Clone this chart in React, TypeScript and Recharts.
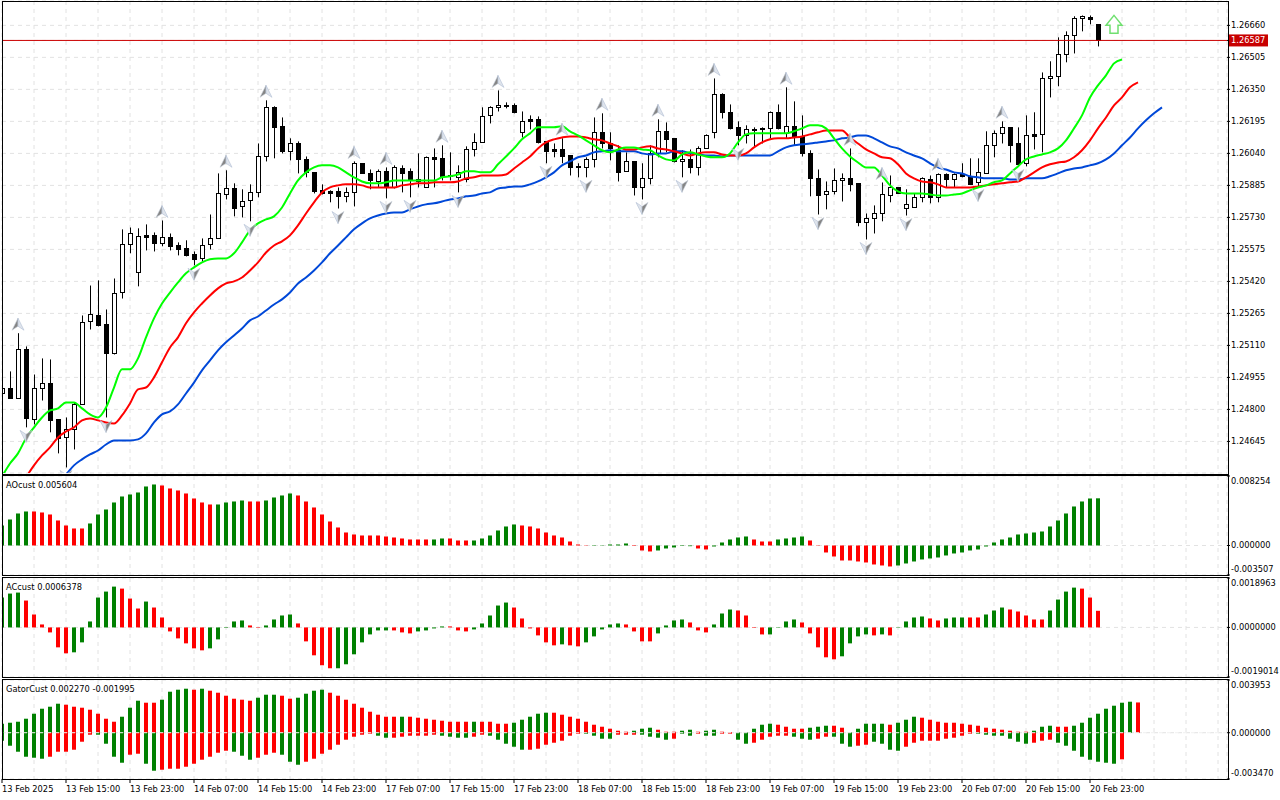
import React from 'react'
import { ComposedChart, Bar, Line, Cell, XAxis, YAxis, CartesianGrid, ReferenceLine } from 'recharts'

// prices are in points (1e-5), AO and Gator in 1e-6, AC in 1e-7
const opens = [
  124877,124902,124853,125091,124756,124906,124930,124752,124664,124703,
  124824,125226,125255,125212,125076,125366,125599,125464,125643,125643,
  125604,125633,125594,125580,125551,125531,125599,125628,125841,125870,
  125783,125812,125851,126025,126263,126171,126050,126088,126011,125948,
  125861,125856,125856,125832,125851,125992,125943,125904,125953,125875,
  125967,125953,125904,125875,126021,126016,125929,125924,125914,126059,
  126093,126224,126263,126270,126272,126142,126205,126205,126098,126059,
  126059,126030,125977,125972,126011,126142,126088,126055,125953,126001,
  125875,125919,126040,126147,126113,126001,126011,125972,126064,126142,
  126326,126238,126166,126127,126151,126161,126161,126238,126137,126171,
  126122,126040,125919,125841,125856,125909,125919,125895,125706,125725,
  125749,125836,125875,125773,125778,125827,125914,125827,125938,125914,
  125938,125929,125900,125943,126079,126137,126166,126088,125992,126132,
  126132,126403,126413,126520,126612,126694,126699,126665,
]
const highs = [
  124911,124984,125169,125105,124969,125047,125042,124752,124761,124834,
  125255,125400,125425,125284,125434,125672,125681,125677,125696,125657,
  125715,125652,125609,125619,125565,125628,125744,125943,125958,125895,
  125866,125890,126088,126297,126268,126214,126113,126098,126025,125948,
  125890,125861,125875,125875,126001,125992,125962,125962,125972,125982,
  125982,125967,126040,126025,126064,126079,126045,125982,126074,126137,
  126263,126268,126345,126287,126282,126243,126224,126219,126098,126088,
  126113,126030,125992,126021,126214,126234,126142,126079,126045,126001,
  125992,126079,126205,126190,126113,126055,126059,126074,126132,126403,
  126331,126277,126195,126176,126166,126166,126243,126277,126360,126292,
  126224,126055,125962,125904,125967,125943,126064,125895,125749,125788,
  125899,125933,125875,125866,125846,125924,125933,125943,125943,125943,
  125992,126016,126016,126147,126151,126195,126166,126166,126224,126239,
  126432,126486,126602,126631,126704,126708,126708,126665,
]
const lows = [
  124863,124853,124853,124713,124727,124843,124689,124587,124519,124606,
  124824,125187,125202,124761,125066,125337,125556,125396,125570,125565,
  125590,125570,125546,125541,125498,125517,125575,125628,125817,125735,
  125730,125711,125827,126001,126016,126040,126006,125943,125924,125846,
  125841,125803,125773,125803,125783,125943,125866,125875,125822,125870,
  125851,125827,125875,125875,125875,125909,125909,125851,125900,126025,
  126093,126185,126243,126258,126234,126117,126156,126088,125992,126021,
  125992,125933,125924,125924,125972,126064,126006,125904,125953,125836,
  125817,125890,126021,126045,125996,125924,125943,125933,126064,126113,
  126209,126156,126079,126088,126074,126088,126113,126156,126113,126079,
  126025,125832,125744,125769,125841,125807,125856,125687,125623,125652,
  125711,125803,125846,125739,125778,125803,125798,125803,125875,125875,
  125924,125890,125880,125943,126021,126088,125996,125977,125977,126059,
  126045,126311,126365,126481,126524,126631,126665,126558,
]
const closes = [
  124902,124853,125091,124756,124906,124930,124752,124660,124703,124824,
  125221,125260,125207,125071,125366,125599,125652,125638,125633,125604,
  125633,125590,125575,125546,125527,125594,125628,125846,125870,125773,
  125807,125851,126025,126263,126166,126050,126088,126011,125948,125856,
  125846,125846,125832,125851,125992,125943,125909,125953,125875,125972,
  125943,125909,125914,126021,126011,125929,125933,125948,126059,126093,
  126219,126263,126272,126272,126238,126195,126195,126093,126050,126050,
  126025,125972,125972,126011,126142,126088,126064,125948,126001,125875,
  125919,126040,126147,126108,126001,126011,125972,126064,126127,126326,
  126238,126161,126127,126156,126156,126156,126238,126161,126171,126122,
  126040,125919,125836,125856,125909,125919,125890,125706,125725,125749,
  125841,125875,125846,125793,125827,125919,125827,125938,125914,125938,
  125929,125890,125948,126079,126137,126166,126079,125987,126127,126122,
  126403,126413,126520,126612,126694,126704,126689,126587,
]

const lipsLine = [
  124475,124538,124587,124660,124713,124761,124795,124805,124834,124834,
  124805,124776,124761,124809,124906,124994,124994,125047,125149,125241,
  125313,125366,125415,125459,125488,125512,125527,125531,125531,125556,
  125609,125667,125701,125720,125735,125778,125846,125909,125948,125972,
  125982,125982,125972,125948,125924,125904,125895,125895,125900,125909,
  125909,125909,125909,125909,125909,125924,125929,125938,125953,125953,
  125948,125948,125987,126025,126064,126108,126137,126166,126166,126166,
  126171,126147,126127,126103,126079,126055,126045,126059,126069,126069,
  126059,126055,126030,126011,126006,126035,126045,126035,126025,126021,
  126021,126040,126093,126132,126137,126137,126137,126137,126137,126147,
  126161,126176,126176,126161,126113,126064,126025,125996,125972,125972,
  125933,125885,125856,125846,125846,125846,125841,125836,125836,125841,
  125846,125861,125875,125885,125900,125909,125943,125977,126011,126025,
  126035,126045,126064,126103,126161,126224,126311,126369,126418,126476,
  126495,
]
const teethLine = [
  null,null,null,124471,124529,124577,124616,124664,124693,124713,
  124747,124756,124747,124737,124732,124771,124829,124897,124906,124955,
  125028,125100,125149,125217,125270,125313,125352,125386,125410,125420,
  125439,125473,125512,125560,125594,125614,125643,125691,125749,125803,
  125851,125875,125885,125890,125890,125885,125875,125875,125875,125875,
  125885,125890,125895,125895,125900,125900,125900,125904,125919,125924,
  125933,125933,125933,125938,125967,125996,126025,126064,126093,126108,
  126117,126122,126122,126117,126108,126103,126088,126074,126059,126059,
  126069,126074,126064,126059,126050,126040,126030,126040,126045,126045,
  126035,126030,126030,126040,126069,126093,126108,126113,126113,126117,
  126122,126132,126142,126151,126151,126151,126117,126088,126059,126040,
  126021,126016,125987,125943,125919,125904,125900,125890,125875,125875,
  125875,125875,125880,125885,125890,125895,125900,125904,125924,125948,
  125972,125987,125996,126001,126021,126055,126103,126161,126214,126272,
  126311,126360,126384,
]
const jawLine = [
  null,null,null,null,null,null,null,124446,124485,124529,
  124558,124582,124601,124630,124650,124650,124650,124655,124684,124737,
  124776,124790,124824,124877,124930,124989,125037,125086,125125,125158,
  125192,125231,125250,125279,125308,125333,125366,125410,125439,125473,
  125512,125556,125594,125633,125672,125701,125725,125739,125749,125754,
  125754,125769,125783,125793,125798,125807,125817,125822,125832,125836,
  125846,125851,125870,125875,125880,125880,125890,125904,125924,125948,
  125982,126001,126021,126030,126045,126050,126055,126050,126050,126050,
  126040,126035,126040,126040,126050,126050,126040,126035,126030,126030,
  126025,126030,126030,126030,126030,126030,126030,126050,126069,126079,
  126084,126088,126093,126098,126103,126113,126117,126127,126127,126113,
  126093,126074,126064,126045,126030,126016,125992,125972,125962,125948,
  125943,125929,125924,125919,125919,125919,125914,125914,125919,125919,
  125919,125929,125943,125958,125967,125972,125982,125992,126011,126040,
  126079,126117,126161,126200,126234,126263,
]

const fractalUpIdx = [2, 20, 28, 33, 44, 48, 55, 62, 70, 75, 82, 89, 98, 106, 110, 117, 125]
const fractalDownIdx = [3, 8, 13, 24, 31, 42, 48, 51, 57, 68, 73, 80, 85, 92, 102, 108, 113, 122, 127]
const signalIdx = 139
const signalPrice = 126660
const lastPrice = 126587

const priceTicks = [126660,126587,126505,126350,126195,126040,125885,125730,125575,125420,125265,125110,124955,124800,124645]

const aoValues = [
  2376,3089,3802,4039,4039,3920,3683,2970,2376,2020,2020,2614,3683,4277,5108,5821,6059,6296,7009,7247,
  7128,6772,6534,6178,5584,5108,4871,4871,5108,5227,5346,5227,5227,5346,5702,5940,6178,5940,5227,4514,
  3683,2851,2138,1544,1307,1188,1188,1188,1069,950,832,713,713,713,713,832,832,594,594,594,
  832,1188,1782,2257,2495,2376,2257,2020,1544,1188,
  950,475,119,36,-48,-36,119,119,238,-59,-594,-713,-594,-356,-238,-59,-83,-356,-475,-119,
  356,713,950,1069,713,475,475,713,832,950,1069,594,-40,-832,-1307,-1782,-1782,-1901,-2020,-2257,
  -2376,-2495,-2376,-2138,-1901,-1663,-1544,-1426,-1188,-950,-832,-594,-475,-119,356,713,950,1307,1426,1544,
  1663,2257,2970,3802,4633,5227,5584,5604,
]
const aoColors = 'GGGG RRRRRRR GGGGGGGGG RRRRRRR GGGG RR GGGG RRRRRRRRRRRRRRRRR GG RRR GGGGGG RRRRRRRRR GGGGG RRR GGGGG RR GGGGG RRR GGGG RRRRRRRRRRR GGGGGGGGGGGGGGGGGGGGGGGGGG'

const acValues = [
  11460,12988,13370,10314,4966,1146,-1910,-7640,-9932,-9550,-5730,2292,11460,13752,15662,14898,11078,7258,9932,7640,
  3820,-1528,-4202,-6112,-8022,-8786,-8022,-4584,-191,2292,2674,764,-191,764,3056,4584,4966,1528,-5348,-10696,
  -14516,-15662,-15662,-14134,-10314,-5730,-2674,-1146,-1146,-1146,-1910,-2292,-1528,-1146,-382,382,382,-1146,-1528,-764,
  1528,4584,8404,9550,7640,3438,-382,-3056,-5730,-6876,
  -6494,-6876,-7258,-5730,-3438,-764,1146,1528,1146,-1528,-5348,-5348,-2292,764,2674,3056,1910,-1146,-1910,1146,
  5348,6876,6494,4584,-191,-2674,-2674,-150,2292,3056,1910,-2292,-7640,-11460,-12224,-11078,-6112,-3438,-2674,-3056,
  -2674,-3056,-150,2292,3820,4202,3438,2674,3438,3820,3820,3820,3820,4966,6494,7640,6876,6112,4584,3056,
  3056,6494,10696,13752,15280,14898,11460,6378,
]
const acColors = 'GGG RRRRRR GGGGGG RRR G RRRRRRR GGGGG RR GGGG RRRRR GGGGGGG RRR GGGG RRR GGGGG RRRRRR G RR GGGGG RRRR GGGG RRR GGG RRRR GGGG RRRRR GGGG R G R GGGG RR GGG RR GGG RRRRR GGGG RRR'

const gatorUpper = [
  675,750,825,1050,1425,1800,1950,2175,2100,1950,1875,1725,1425,1050,825,1200,1875,2400,2250,2250,
  2475,3075,3225,3300,3225,3300,3150,3000,2775,2550,2475,2400,2625,2850,2850,2775,2550,2625,2925,3150,
  3225,3000,2775,2475,2175,1875,1575,1350,1200,1200,1200,1200,1125,1050,975,900,825,825,825,825,
  825,825,675,675,750,975,1200,1425,1500,1500,
  1350,1200,1050,825,600,450,300,150,75,150,300,375,225,75,75,150,225,75,150,225,
  75,45,20,15,300,600,675,600,450,300,300,375,450,525,525,375,20,300,675,675,
  675,600,750,975,1200,1125,975,825,750,750,675,600,525,375,300,225,150,75,75,150,
  450,525,450,450,525,750,1125,1425,1800,2025,2250,2325,2270,
]
const gatorLower = [
  -600,-975,-1425,-1800,-1875,-1950,-1800,-1425,-1425,-1275,-675,-150,-150,-825,-1800,-2250,-1650,-1575,-2325,-2850,
  -2775,-2700,-2700,-2550,-2325,-2025,-1800,-1500,-1350,-1425,-1725,-2025,-1875,-1650,-1500,-1650,-2175,-2400,-2175,-1950,
  -1575,-1275,-900,-525,-300,-150,-75,-225,-375,-375,-300,-225,-225,-225,-150,-225,-300,-375,-375,-300,
  -150,-225,-525,-825,-1050,-1275,-1275,-1200,-900,-750,
  -600,-225,-75,-75,-225,-450,-450,-150,-150,-150,-150,-300,-375,-525,-450,-75,-225,-75,-225,-225,
  -75,-75,-525,-825,-750,-525,-300,-225,-225,-300,-450,-525,-450,-300,-300,-825,-1050,-975,-900,-675,
  -825,-1275,-1350,-1050,-750,-600,-600,-600,-450,-375,-225,-75,-75,-150,-225,-225,-450,-675,-825,-750,
  -600,-525,-750,-975,-1350,-1800,-2025,-2175,-2250,-2325,-1995,
]
const gatorUpperColors = 'GGGGGGGG RRRRRRR GGG RR GGGG R G RRRRRR GGG RR GGGG RRRRRRRRR G RRRRRRRR G RRRR GGGGG RRRRRRRRRR GGG RRR GG R GG RR GGGGG RRRR GGG RR GGGGG R GGG RRRRRRRRRRRRRR GGG RR GGGGGGGG R'
const gatorLowerColors = 'GGGGGG RRRRRR GGGG RR GG RRRRRRRRR GGG RRR GGG RRRRRRRRR GG RRRRRR GGGG RR GGGGG RRRRRRR GGGG RRR GGGG R GG R GG RR GG RRRRR GGG RR GGG RR GGGG RRRRRRRRR GGGGGGG RRR GGGGGGGG R'

const timeLabels = [
  '13 Feb 2025','13 Feb 15:00','13 Feb 23:00','14 Feb 07:00','14 Feb 15:00','14 Feb 23:00',
  '17 Feb 07:00','17 Feb 15:00','17 Feb 23:00','18 Feb 07:00','18 Feb 15:00','18 Feb 23:00',
  '19 Feb 07:00','19 Feb 15:00','19 Feb 23:00','20 Feb 07:00','20 Feb 15:00','20 Feb 23:00',
]

const FONT = '"DejaVu Sans Condensed", "Liberation Sans", sans-serif'
const FONT_SIZE = 9.2
const GREEN = '#008000'
const RED = '#ff0000'
const GRID = '#e2e2e2'
const W = 1280
const SLOTS = 153.125 // bars that fit between the left edge and the price scale
const gridTicks = Array.from({ length: 39 }, (_, k) => k * 4)

const letters = (s: string) => s.replace(/ /g, '').split('')
const colorOf = (c: string) => (c === 'G' ? GREEN : RED)

const mainRows = Array.from({ length: 146 }, (_, i) => ({
  i,
  range: i < opens.length ? [lows[i], highs[i]] : null,
  open: opens[i],
  close: closes[i],
  high: highs[i],
  low: lows[i],
  lips: lipsLine[i] ?? null,
  teeth: teethLine[i] ?? null,
  jaw: jawLine[i] ?? null,
  up: fractalUpIdx.includes(i) ? highs[i] : null,
  down: fractalDownIdx.includes(i) ? lows[i] : null,
  signal: i === signalIdx ? signalPrice : null,
}))
const aoRows = aoValues.map((v, i) => ({ i, v }))
const acRows = acValues.map((v, i) => ({ i, v }))
const gatorRows = gatorUpper.map((u, i) => ({ i, u, l: gatorLower[i] ?? null }))

function Candle(props: any) {
  const { x, y, width, height, payload } = props
  if (!payload.range || height == null) return null
  const top = Math.min(y, y + height)
  const k = Math.abs(height) / (payload.high - payload.low)
  const yOpen = top + (payload.high - payload.open) * k
  const yClose = top + (payload.high - payload.close) * k
  const bull = payload.close >= payload.open
  const cx = Math.round(x + width / 2)
  const bodyTop = Math.round(Math.min(yOpen, yClose)) + 0.5
  const bodyH = Math.max(Math.round(Math.abs(yOpen - yClose)), 1)
  return (
    <g>
      <line x1={cx + 0.5} x2={cx + 0.5} y1={top} y2={top + Math.abs(height)} stroke="#000" strokeWidth={1} />
      <rect x={cx - 1.5} y={bodyTop} width={4} height={bodyH} fill={bull ? '#fff' : '#000'} stroke="#000" strokeWidth={1} />
    </g>
  )
}

function UpArrow(props: any) {
  const { cx, cy, payload } = props
  if (payload.up == null || cy == null) return null
  const y = cy - 9
  return (
    <g>
      <polygon points={`${cx},${y - 6} ${cx - 6},${y + 6} ${cx},${y + 2}`} fill="#858585" stroke="#c4ccd8" strokeWidth={0.6} />
      <polygon points={`${cx},${y - 6} ${cx + 6},${y + 6} ${cx},${y + 2}`} fill="#dfe4ec" stroke="#b0bed4" strokeWidth={0.6} />
    </g>
  )
}

function DownArrow(props: any) {
  const { cx, cy, payload } = props
  if (payload.down == null || cy == null) return null
  const y = cy + 9
  return (
    <g>
      <polygon points={`${cx},${y + 6} ${cx - 6},${y - 6} ${cx},${y - 2}`} fill="#dfe4ec" stroke="#b0bed4" strokeWidth={0.6} />
      <polygon points={`${cx},${y + 6} ${cx + 6},${y - 6} ${cx},${y - 2}`} fill="#858585" stroke="#c4ccd8" strokeWidth={0.6} />
    </g>
  )
}

function SignalArrow(props: any) {
  const { cx, cy, payload } = props
  if (payload.signal == null || cy == null) return null
  const d = `${cx},${cy - 10} ${cx + 8},${cy} ${cx + 4},${cy} ${cx + 4},${cy + 8} ${cx - 4},${cy + 8} ${cx - 4},${cy} ${cx - 8},${cy}`
  return <polygon points={d} fill="#fff" stroke="#70e070" strokeWidth={1.5} />
}

function PriceTick(props: any) {
  const { x, y, payload } = props
  const label = (payload.value / 1e5).toFixed(5)
  if (payload.value === lastPrice) {
    return (
      <g>
        <rect x={x - 3} y={y - 6} width={40} height={12} fill="#c80000" />
        <text x={x} y={y + 3} fontSize={FONT_SIZE} fontFamily={FONT} fill="#fff">{label}</text>
      </g>
    )
  }
  return <text x={x} y={y + 3} fontSize={FONT_SIZE} fontFamily={FONT} fill="#000">{label}</text>
}

// first and last labels of a sub window sit inside the window
function paneTick(max: number, min: number, div: number, digits: number) {
  return (props: any) => {
    const { x, y, payload } = props
    const dy = payload.value === max ? 8 : payload.value === min ? -3 : 3
    return <text x={x} y={y + dy} fontSize={FONT_SIZE} fontFamily={FONT} fill="#000">{(payload.value / div).toFixed(digits)}</text>
  }
}

function TimeTick(props: any) {
  const { x, y, payload } = props
  const k = payload.value / 8
  if (!Number.isInteger(k) || !timeLabels[k]) return null
  return (
    <g>
      <line x1={x} x2={x} y1={y - 4} y2={y} stroke="#000" />
      <text x={x} y={y + 9} fontSize={FONT_SIZE} fontFamily={FONT} fill="#000">{timeLabels[k]}</text>
    </g>
  )
}

const frame = (top: number, height: number) => (
  <div style={{ position: 'absolute', left: 2, top, width: 1225, height, border: '1px solid #000', pointerEvents: 'none' }} />
)

const title = (top: number, text: string) => (
  <div style={{ position: 'absolute', left: 6, top, font: `${FONT_SIZE}px ${FONT}`, color: '#000', lineHeight: '11px' }}>{text}</div>
)

function HistPane({ top, rows, colors, domain, div, digits, ticks }: any) {
  const cs = letters(colors)
  return (
    <div style={{ position: 'absolute', left: 0, top }}>
      <ComposedChart width={W} height={103} data={rows} margin={{ top: 2, right: 0, bottom: 2, left: 2 }}>
        <CartesianGrid stroke={GRID} strokeDasharray="4 4" />
        <XAxis type="number" dataKey="i" domain={[0, SLOTS]} ticks={gridTicks} interval={0} allowDataOverflow hide />
        <YAxis orientation="right" width={53} domain={domain} ticks={ticks} interval={0} allowDataOverflow axisLine={false}
          tickLine={{ stroke: '#000' }} tickSize={3} tickMargin={1} tick={paneTick(domain[1], domain[0], div, digits)} />
        <Bar dataKey="v" barSize={4} isAnimationActive={false}>
          {rows.map((r: any) => <Cell key={r.i} fill={colorOf(cs[r.i])} />)}
        </Bar>
      </ComposedChart>
    </div>
  )
}

export default function App() {
  const upColors = letters(gatorUpperColors)
  const lowColors = letters(gatorLowerColors)
  return (
    <div style={{ position: 'absolute', left: 0, top: 0, width: W, height: 800, background: '#fff', overflow: 'hidden' }}>
      {/* price window */}
      <div style={{ position: 'absolute', left: 0, top: 0 }}>
        <ComposedChart width={W} height={474} data={mainRows} margin={{ top: 1, right: 0, bottom: 1, left: 2 }}>
          <CartesianGrid stroke={GRID} strokeDasharray="4 4" />
          <XAxis type="number" dataKey="i" domain={[0, SLOTS]} ticks={gridTicks} interval={0} allowDataOverflow hide />
          <YAxis orientation="right" width={53} domain={[124492, 126778]} ticks={priceTicks} interval={0} allowDataOverflow axisLine={false}
            tickLine={{ stroke: '#000' }} tickSize={3} tickMargin={1} tick={<PriceTick />} />
          <ReferenceLine y={lastPrice} stroke="#cc0000" strokeWidth={1} />
          <Bar dataKey="range" barSize={5} shape={<Candle />} isAnimationActive={false} />
          <Line type="monotone" dataKey="jaw" stroke="#0048d8" strokeWidth={2} dot={false} isAnimationActive={false} />
          <Line type="monotone" dataKey="teeth" stroke="#ff0000" strokeWidth={2} dot={false} isAnimationActive={false} />
          <Line type="monotone" dataKey="lips" stroke="#00ff00" strokeWidth={2} dot={false} isAnimationActive={false} />
          <Line dataKey="up" stroke="none" dot={<UpArrow />} isAnimationActive={false} />
          <Line dataKey="down" stroke="none" dot={<DownArrow />} isAnimationActive={false} />
          <Line dataKey="signal" stroke="none" dot={<SignalArrow />} isAnimationActive={false} />
        </ComposedChart>
      </div>

      <HistPane top={474} rows={aoRows} colors={aoColors} domain={[-3507, 8254]} div={1e6} digits={6} ticks={[-3507, 0, 8254]} />
      <HistPane top={576} rows={acRows} colors={acColors} domain={[-19014, 18963]} div={1e7} digits={7} ticks={[-19014, 0, 18963]} />

      {/* gator window, carries the time scale */}
      <div style={{ position: 'absolute', left: 0, top: 678 }}>
        <ComposedChart width={W} height={121} data={gatorRows} stackOffset="sign" margin={{ top: 2, right: 0, bottom: 0, left: 2 }}>
          <CartesianGrid stroke={GRID} strokeDasharray="4 4" />
          <XAxis type="number" dataKey="i" domain={[0, SLOTS]} ticks={gridTicks} interval={0} allowDataOverflow height={20}
            axisLine={false} tickLine={false} tickSize={4} tickMargin={0} tick={<TimeTick />} />
          <YAxis orientation="right" width={53} domain={[-3470, 3953]} ticks={[-3470, 0, 3953]} interval={0} allowDataOverflow axisLine={false}
            tickLine={{ stroke: '#000' }} tickSize={3} tickMargin={1} tick={paneTick(3953, -3470, 1e6, 6)} />
          <Bar dataKey="u" stackId="g" barSize={4} isAnimationActive={false}>
            {gatorRows.map((r) => <Cell key={r.i} fill={colorOf(upColors[r.i])} />)}
          </Bar>
          <Bar dataKey="l" stackId="g" barSize={4} isAnimationActive={false}>
            {gatorRows.map((r) => <Cell key={r.i} fill={colorOf(lowColors[r.i] ?? 'R')} />)}
          </Bar>
          <ReferenceLine y={0} stroke="#f0f0f0" strokeDasharray="4 4" />
        </ComposedChart>
      </div>

      {frame(1, 472)}
      {frame(475, 99)}
      {frame(577, 99)}
      {frame(679, 99)}
      {title(479, 'AOcust 0.005604')}
      {title(581, 'ACcust 0.0006378')}
      {title(683, 'GatorCust 0.002270 -0.001995')}
    </div>
  )
}
